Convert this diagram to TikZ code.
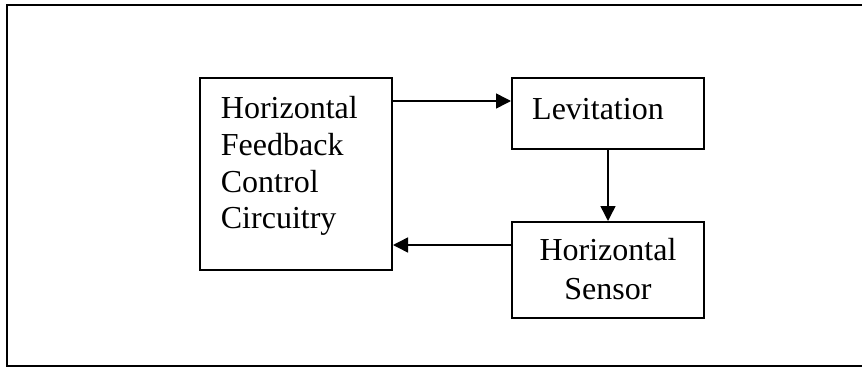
\documentclass[tikz,border=0pt]{standalone}
\usepackage{fontspec}
\setmainfont{Liberation Serif}
\usetikzlibrary{arrows.meta}
\begin{document}
\begin{tikzpicture}[x=1pt,y=1pt,
  box/.style={draw=black,line width=2pt,rectangle,inner sep=0pt},
  arr/.style={draw=black,line width=1.5pt,-{Triangle[length=15pt,width=15pt]}},
  txt/.style={inner sep=0pt,font=\fontsize{32}{36}\selectfont}]
\useasboundingbox (0,0) rectangle (862,368);
\draw[line width=2pt] (7,363.5) rectangle (890,2);
\node[box,minimum width=192pt,minimum height=192pt] (lbox) at (296,194) {};
\node[box,minimum width=192pt,minimum height=71pt] (lev) at (608,254.5) {};
\node[box,minimum width=192pt,minimum height=96pt] (sens) at (608,98) {};
\node[txt,anchor=base west] (l1) at (220.7,250) {Horizontal};
\node[txt,anchor=base west] (l2) at (220.7,213) {Feedback};
\node[txt,anchor=base west] (l3) at (220.7,176) {Control};
\node[txt,anchor=base west] (l4) at (220.7,140) {Circuitry};
\node[txt,anchor=base west] (lv) at (532,249) {Levitation};
\node[txt,anchor=base] (s1) at (608,107.3) {Horizontal};
\node[txt,anchor=base] (s2) at (608,69) {Sensor};
\draw[arr] ([yshift=-24pt]lbox.north east) -- ([yshift=-24pt]lev.north west);
\draw[arr] (lev.south) -- (sens.north);
\draw[arr] ([yshift=-24pt]sens.north west) -- ([yshift=-168pt]lbox.north east);
\end{tikzpicture}
\end{document}
